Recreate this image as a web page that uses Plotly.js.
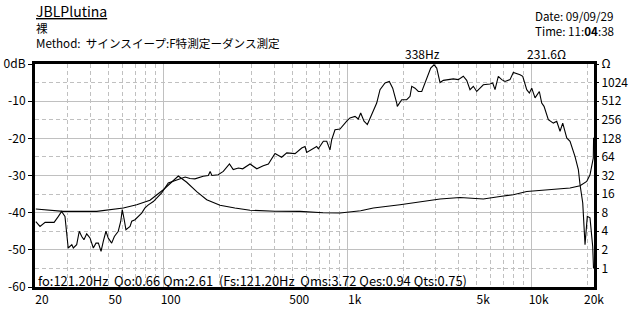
<!DOCTYPE html>
<html>
<head>
<meta charset="utf-8">
<script src="https://cdn.plot.ly/plotly-3.0.1.min.js"></script>
<style>html,body{margin:0;padding:0;background:#fff;}#chart{width:633px;height:313px;}</style>
</head>
<body>
<div id="chart"></div>
<script>
// Frequency response (dB)
const splFreq = [20.2,21.3,22.7,25.4,26.8,27.9,29.1,30.3,31.7,32.3,
  33.7,34.8,35.9,36.9,38.2,39.8,41.5,42.9,44.2,45.7,
  47.0,48.6,50.0,52.2,54.0,56.7,58.5,59.6,61.1,62.4,
  65.7,67.1,69.9,72.8,76.0,79.2,82.6,87.9,91.7,97.6,
  106,118,131,139,148,164,175,179,183,198,
  211,228,239,255,269,295,321,348,371,403,
  438,467,518,563,587,599,638,679,693,738,
  770,802,819,854,909,948,989,1030,1097,1143,
  1178,1228,1280,1352,1439,1500,1597,1685,1758,1849,
  1862,1968,2095,2184,2231,2325,2423,2529,2690,2829,
  2949,3050,3179,3313,3526,3753,3995,4253,4438,4626,
  4822,5031,5243,5464,5941,6146,6325,6591,6878,7168,
  7631,7954,8651,8948,9408,9719,10016,10438,11015,11350,
  11682,12327,13122,13693,14273,14761,15520,16174,17219,17945,
  18333,18960,19510,20074,20764,21478,21700];
const splDb = [-42.4,-43.7,-42.6,-42.6,-41.0,-39.7,-41.0,-49.5,-48.6,-49.5,
  -48.6,-45.0,-46.4,-47.3,-45.7,-46.8,-49.5,-48.2,-48.2,-50.4,
  -47.7,-45.0,-46.8,-48.2,-46.4,-45.0,-42.3,-39.2,-41.9,-44.6,
  -43.7,-42.3,-41.9,-41.0,-40.1,-38.7,-37.9,-37.0,-36.1,-34.7,
  -32.0,-31.1,-30.4,-30.8,-30.9,-30.2,-30.0,-28.9,-30.0,-29.8,
  -28.9,-26.9,-28.4,-28.0,-28.2,-26.9,-28.2,-27.4,-26.9,-24.1,
  -25.1,-23.9,-24.1,-22.6,-22.2,-23.8,-23.1,-22.2,-22.8,-20.8,
  -20.8,-23.1,-20.4,-17.7,-17.5,-16.3,-15.4,-14.5,-14.1,-14.8,
  -13.2,-15.4,-16.3,-13.6,-10.5,-6.9,-5.1,-4.7,-6.5,-10.5,
  -11.4,-9.6,-9.6,-8.7,-6.0,-6.5,-7.4,-7.4,-4.2,-1.1,
  -0.2,-1.1,-5.0,-4.4,-4.2,-4.0,-4.2,-3.3,-4.4,-6.9,
  -6.0,-7.4,-6.5,-5.6,-5.4,-5.1,-6.9,-3.3,-4.2,-4.7,
  -4.2,-2.3,-2.9,-3.3,-6.9,-7.8,-6.5,-9.1,-7.4,-10.5,
  -11.4,-15.0,-15.9,-15.4,-18.1,-15.9,-19.9,-20.8,-24.9,-28.4,
  -32.5,-37.4,-48.6,-41.0,-41.4,-49.1,-55];

// Impedance (ohm)
const impFreq = [20.2,28.5,43.3,60.4,71.4,84.3,99.6,108.4,120.2,133.5,
  151.3,171.5,202.5,244,295,403,551,735,909,1178,1380,
  1925,2578,3179,4083,5464,6733,7954,9408,11108,13693,
  16174,18333,19928,20764,21209,21639,21720];
const impOhm = [9.16,8.38,8.38,9.51,10.76,12.73,18.8,24.0,31.4,24.9,
  17.5,12.97,10.56,9.51,8.76,8.44,8.38,7.98,7.90,8.6,9.51,
  10.76,12.17,13.31,14.12,13.31,14.66,15.63,17.67,18.34,18.83,
  20.06,21.86,25.6,32.9,44.9,61.4,131];

// Axis ticks
const xTickVals = [20,50,100,500,1000,5000,10000,20000];
const xTickText = ['20','50','100','500','1k','5k','10k','20k'];
const xMajorGrid = [100,1000,10000];
const xMinorGrid = [30,40,50,60,70,80,90,200,300,400,500,600,700,800,900,2000,3000,4000,5000,6000,7000,8000,9000,20000];
const dbTickVals = [-60,-50,-40,-30,-20,-10,0];
const dbTickText = ['-60','-50','-40','-30','-20','-10','0dB'];
const ohmTickVals = [1,2,4,8,16,32,64,128,256,512,1024,2048];
const ohmTickText = ['1','2','4','8','16','32','64','128','256','512','1024','Ω'];

const FONT = '"Noto Sans CJK JP", "DejaVu Sans", sans-serif';
const GRID = '#c0c0c0';
const xr = [Math.log10(20), Math.log10(21830)];
const SP = '\u00a0';

const traces = [
  {x: splFreq, y: splDb, type: 'scatter', mode: 'lines', xaxis: 'x', yaxis: 'y',
   line: {color: '#000', width: 1.1}, hoverinfo: 'skip'},
  {x: impFreq, y: impOhm, type: 'scatter', mode: 'lines', xaxis: 'x2', yaxis: 'y2',
   line: {color: '#000', width: 1.1}, hoverinfo: 'skip'}
];

function note(x, y, text, size, align) {
  return {xref: 'paper', yref: 'paper', x: x, y: y, xanchor: 'left', yanchor: 'middle',
    align: align || 'left', showarrow: false, text: text, borderpad: 0, font: {family: FONT, size: size}};
}

const layout = {
  width: 633, height: 313,
  margin: {l: 35, r: 39, t: 64, b: 26, pad: 0},
  paper_bgcolor: '#fff', plot_bgcolor: '#fff',
  showlegend: false,
  font: {family: FONT, size: 12, color: '#000'},
  xaxis: {type: 'log', range: xr, tickmode: 'array', tickvals: xTickVals, ticktext: xTickText,
    showgrid: false, zeroline: false, showline: true, linewidth: 3, linecolor: '#000', mirror: true,
    ticks: '', ticklabelshift: 7, tickfont: {family: FONT, size: 12}},
  xaxis2: {type: 'log', range: xr, overlaying: 'x', anchor: 'y', tickmode: 'array', tickvals: xMajorGrid,
    showticklabels: false, ticks: '', showline: false, zeroline: false,
    showgrid: true, gridcolor: GRID, gridwidth: 1,
    minor: {tickmode: 'array', tickvals: xMinorGrid, showgrid: true, gridcolor: GRID, gridwidth: 1, griddash: '4px,3px', ticks: ''}},
  yaxis: {range: [-60, 0], tickmode: 'array', tickvals: dbTickVals, ticktext: dbTickText,
    showgrid: true, gridcolor: GRID, gridwidth: 1, zeroline: false,
    showline: true, linewidth: 3, linecolor: '#000', mirror: true,
    ticks: 'outside', ticklen: 4, tickwidth: 1, tickcolor: '#000', tickfont: {family: FONT, size: 12}},
  yaxis2: {type: 'log', range: [Math.log10(0.5), Math.log10(2048)], overlaying: 'y', side: 'right', anchor: 'x2',
    tickmode: 'array', tickvals: ohmTickVals, ticktext: ohmTickText,
    showgrid: true, gridcolor: GRID, gridwidth: 1, griddash: '4px,3px', zeroline: false, showline: false,
    ticks: 'outside', ticklen: 4, tickwidth: 1, tickcolor: '#000', tickfont: {family: FONT, size: 12}},
  annotations: [
    note(0, 1.236, '<span style="text-decoration:underline">JBLPlutina</span>', 14),
    note(0, 1.128, '裸<br>Method:' + SP + SP + 'サインスイープ:F特測定ーダンス測定', 11.6),
    note(0.893, 1.183, 'Date:' + SP + '09/09/29<br>Time:' + SP + '11:<b>04</b>:38', 11.6),
    note(0.661, 1.046, '338Hz', 12),
    note(0.879, 1.046, '231.6Ω', 12),
    note(0.003, 0.028, 'fo:121.20Hz' + SP + SP + 'Qo:0.66' + SP + 'Qm:2.61' + SP + SP + '(Fs:121.20Hz' + SP + SP +
      'Qms:3.72' + SP + 'Qes:0.94' + SP + 'Qts:0.75)', 12.9)
  ]
};

Plotly.newPlot('chart', traces, layout, {staticPlot: true, displayModeBar: false});
</script>
</body>
</html>
